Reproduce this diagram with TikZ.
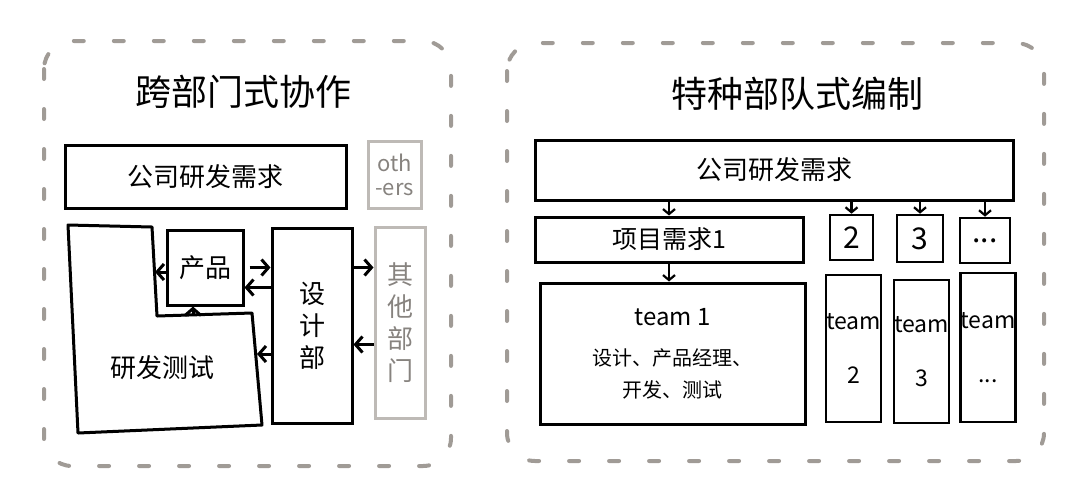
\documentclass[tikz,border=0pt]{standalone}
\usepackage{fontspec}
\setmainfont{Noto Sans CJK SC}
\usetikzlibrary{positioning, arrows.meta, calc}

\definecolor{dashgray}{RGB}{160,155,150}
\definecolor{boxgray}{RGB}{190,186,182}
\definecolor{txtgray}{RGB}{135,131,127}

\begin{document}
\begin{tikzpicture}[x=0.5pt, y=-0.5pt,
    frame/.style={draw=dashgray, line width=2pt, line cap=round, dash pattern=on 5pt off 15pt, rounded corners=14pt},
    title/.style={font=\fontsize{18}{22}\selectfont},
    box/.style={draw, line width=1.5pt, inner sep=0pt, align=center, font=\fontsize{13}{16}\selectfont},
    gbox/.style={box, draw=boxgray, text=txtgray},
    nbox/.style={box, line width=1.3pt, font=\fontsize{15}{18}\selectfont},
    tbox/.style={box, line width=1.3pt, font=\fontsize{11.5}{13}\selectfont},
    arr/.style={line width=1.5pt, -{Straight Barb[length=3.5pt,width=8pt]}},
    sarr/.style={line width=1.1pt, -{Straight Barb[length=2.5pt,width=6pt]}}]
  \useasboundingbox (0,0) rectangle (1080,488);

  % left: cross-department collaboration
  \draw[frame] (44,41) rectangle (451,466);
  \node[title] (ltitle) at (243,92) {跨部门式协作};
  \node[box, minimum width=140.5pt, minimum height=31.5pt] (lreq) at (205.5,176.5) {公司研发需求};
  \node[gbox, minimum width=26.5pt, minimum height=33.5pt, font=\fontsize{11}{12}\selectfont] (others) at (394.5,174.5) {oth\\-ers};

  % R&D / test block is L-shaped
  \draw[line width=1.5pt, line join=round] (68,225) -- (152,227) -- (157,316) -- (252,313) -- (262,425) -- (78,433) -- cycle;
  \node[font=\fontsize{13}{16}\selectfont] (rdtest) at (162,368) {研发测试};
  \coordinate (rdtest-in) at (155,272);
  \coordinate (rdtest-top) at (193,315);
  \coordinate (rdtest-r) at (257,354);

  \node[box, minimum width=38pt, minimum height=37.5pt] (prod) at (205,267.5) {产品};
  \node[box, minimum width=40pt, minimum height=97.5pt] (design) at (312,326) {设\\计\\部};
  \node[gbox, minimum width=25pt, minimum height=95.5pt] (other) at (400,322.5) {其\\他\\部\\门};
  \coordinate (prod-r) at ([yshift=-10pt]prod.east);
  \coordinate (other-l) at ([yshift=-11pt]other.west);

  \draw[arr] (prod.west |- rdtest-in) -- (rdtest-in);
  \draw[arr] (rdtest-top) -- (rdtest-top |- prod.south);
  \draw[arr, shorten <=2.5pt] (prod.east) -- (prod.east -| design.west);
  \draw[arr] (prod-r -| design.west) -- (prod-r);
  \draw[arr] (design.east |- prod.east) -- (other.west |- prod.east);
  \draw[arr] (other-l) -- (other-l -| design.east);
  \draw[arr] (design.west |- rdtest-r) -- (rdtest-r);

  % right: special-forces style teams
  \draw[frame] (507,43) rectangle (1044,461);
  \node[title] (rtitle) at (797,94) {特种部队式编制};
  \node[box, minimum width=239pt, minimum height=30pt] (rreq) at (774,170) {公司研发需求};
  \node[box, minimum width=134pt, minimum height=22.5pt, font=\fontsize{12.5}{15}\selectfont] (proj) at (669,239.5) {项目需求1};
  \node[nbox, minimum width=21.5pt, minimum height=22.5pt] (p2) at (851.5,237.5) {2};
  \node[nbox, minimum width=23pt, minimum height=23.5pt] (p3) at (920,238.5) {3};
  \node[nbox, minimum width=25pt, minimum height=22.5pt] (p4) at (985,240.5) {...};

  \node[box, minimum width=132.5pt, minimum height=70.5pt] (team1) at (672.5,353.5)
    {\fontsize{12}{13}\selectfont team 1\\[4pt]\fontsize{10}{15}\selectfont 设计、产品经理、\\\fontsize{10}{15}\selectfont 开发、测试};
  \node[tbox, minimum width=26.5pt, minimum height=73.5pt] (team2) at (853.5,348.5) {team\\[14pt]2};
  \node[tbox, minimum width=23.5pt, minimum height=71.5pt] (team3) at (921.5,351.5) {team\\[14pt]3};
  \node[tbox, minimum width=23pt, minimum height=74.5pt] (team4) at (988,347.5) {team\\[14pt]...};

  \draw[sarr] (rreq.south -| proj.north) -- (proj.north);
  \foreach \n in {p2,p3,p4}
    \draw[sarr] (rreq.south -| \n.north) -- (\n.north);
  \draw[sarr] (proj.south) -- (proj.south |- team1.north);
\end{tikzpicture}
\end{document}
